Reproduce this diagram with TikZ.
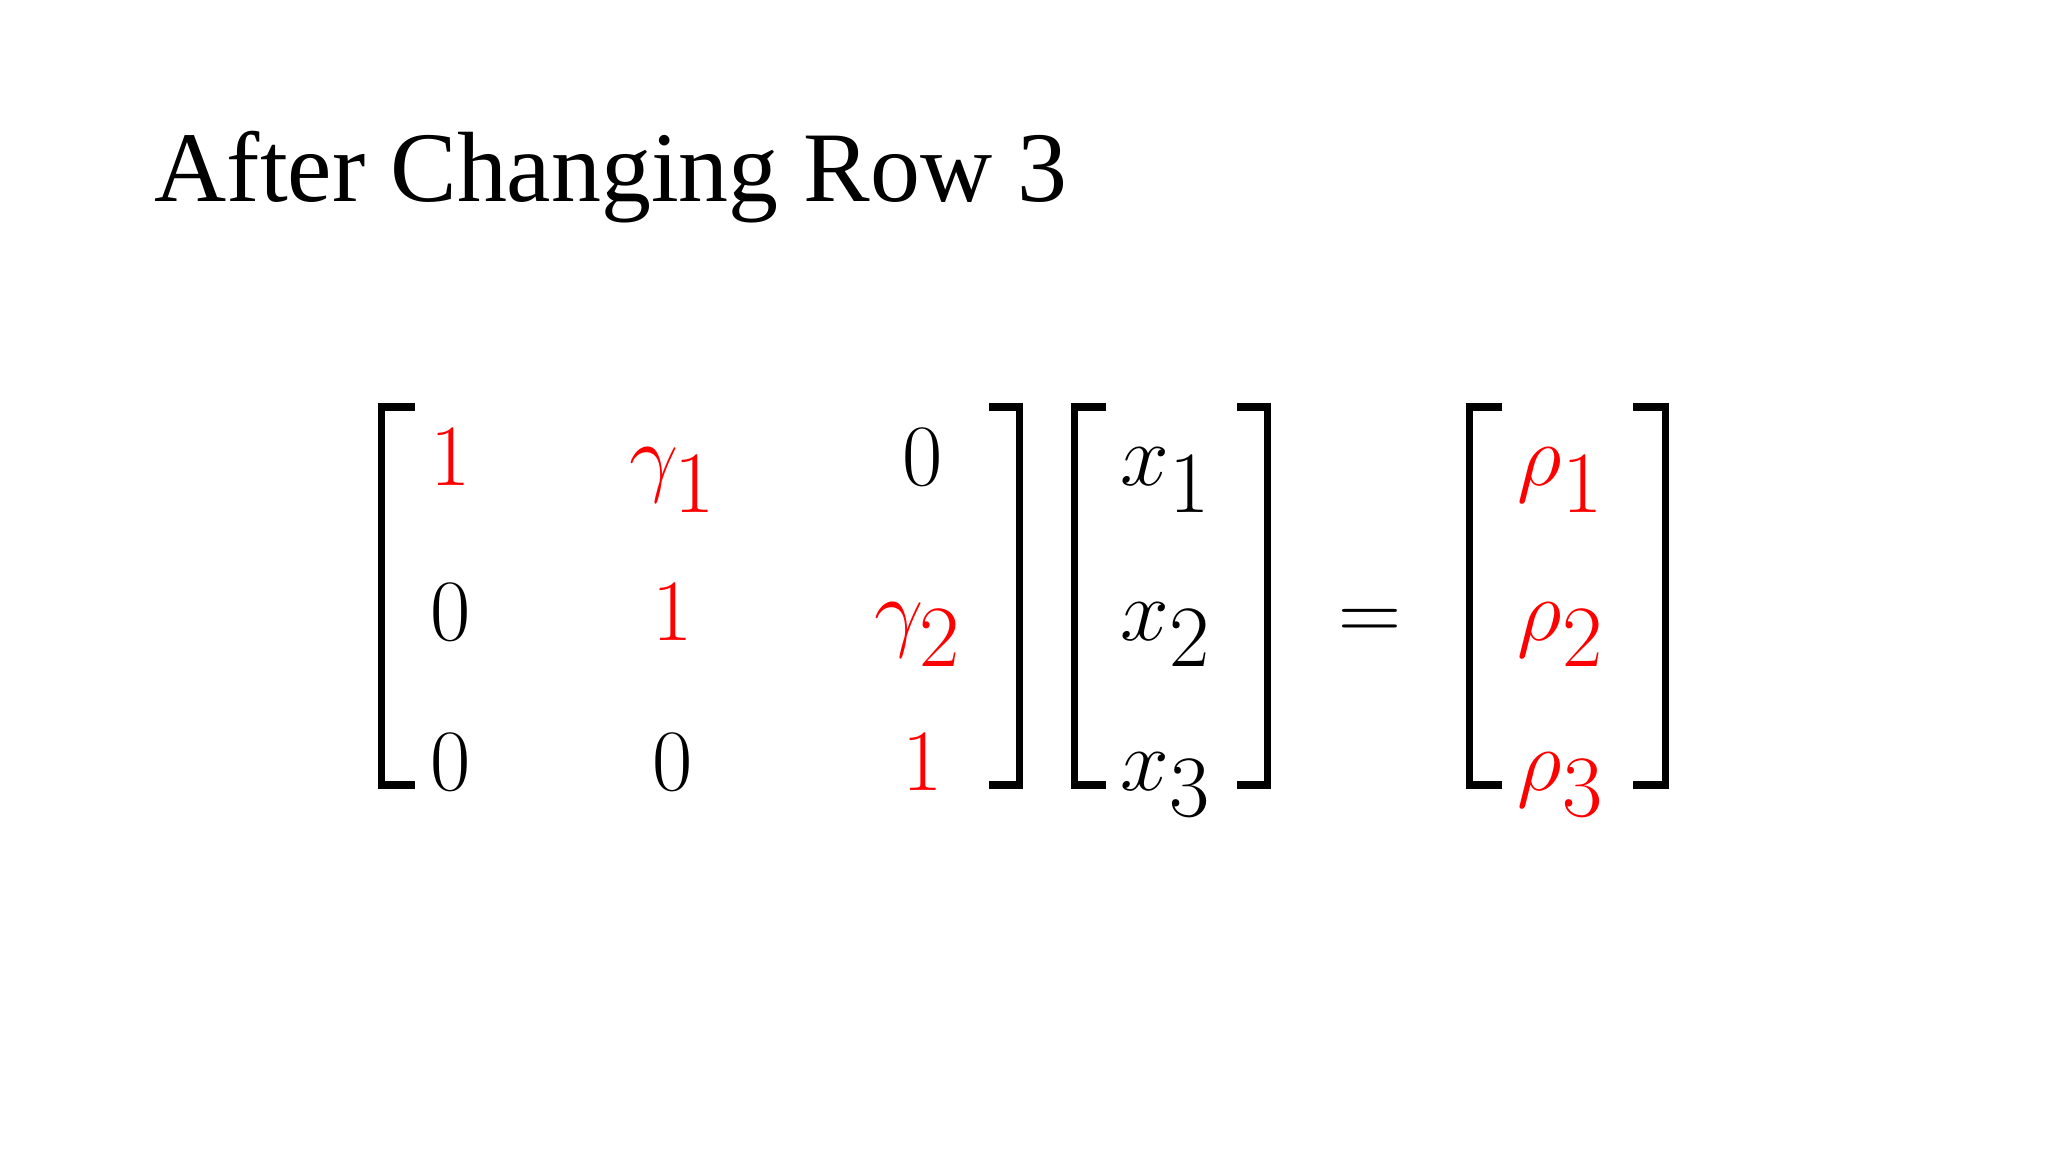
\documentclass[tikz,border=0pt]{standalone}
\usepackage{fontspec}
\setmainfont{Liberation Serif}
\begin{document}
\begin{tikzpicture}[x=0.01cm,y=-0.01cm,
  br/.style={line width=0.07cm},
  ent/.style={anchor=base,inner sep=0pt,font=\fontsize{42}{46}\selectfont},
  red/.style={text={rgb,255:red,255;green,0;blue,0}}]
\useasboundingbox (0,0) rectangle (2048,1152);
\node[anchor=base west,inner sep=0pt,font=\fontsize{28.4}{32}\selectfont] (title) at (154,202) {After Changing Row 3};
% brackets
\draw[br] (415,407) -- (381,407) -- (381,785) -- (415,785);
\draw[br] (989,407) -- (1019,407) -- (1019,785) -- (989,785);
\draw[br] (1106,407) -- (1074,407) -- (1074,785) -- (1106,785);
\draw[br] (1237,407) -- (1267,407) -- (1267,785) -- (1237,785);
\draw[br] (1502,407) -- (1469,407) -- (1469,785) -- (1502,785);
\draw[br] (1633,407) -- (1665,407) -- (1665,785) -- (1633,785);
% matrix
\node[ent,red] (a11) at (451,486) {$1$};
\node[ent,red] (a12) at (673,486) {$\gamma_1$};
\node[ent] (a13) at (923,486) {$0$};
\node[ent] (a21) at (451,640) {$0$};
\node[ent,red] (a22) at (673,640) {$1$};
\node[ent,red] (a23) at (918,640) {$\gamma_2$};
\node[ent] (a31) at (451,790) {$0$};
\node[ent] (a32) at (673,790) {$0$};
\node[ent,red] (a33) at (923,790) {$1$};
% x
\node[ent] (x1) at (1166,486) {$x_1$};
\node[ent] (x2) at (1166,640) {$x_2$};
\node[ent] (x3) at (1166,790) {$x_3$};
\node[ent] (eq) at (1370,640) {$=$};
\node[ent,red] (r1) at (1561,486) {$\rho_1$};
\node[ent,red] (r2) at (1561,640) {$\rho_2$};
\node[ent,red] (r3) at (1561,790) {$\rho_3$};
\end{tikzpicture}
\end{document}
